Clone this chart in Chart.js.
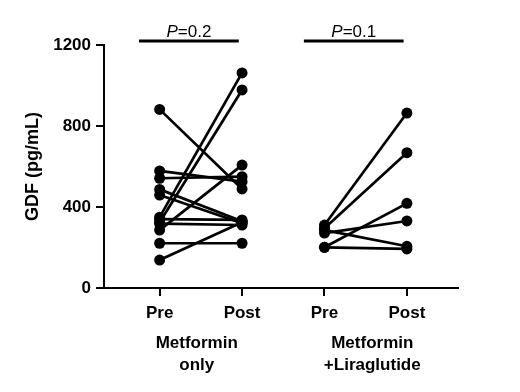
<!DOCTYPE html>
<html>
<head>
<meta charset="utf-8">
<script src="https://cdn.jsdelivr.net/npm/chart.js@4/dist/chart.umd.min.js"></script>
<style>
  html, body { margin: 0; padding: 0; background: #fff; }
  #wrap { width: 520px; height: 392px; }
</style>
</head>
<body>
<div id="wrap"><canvas id="gdfChart"></canvas></div>
<script>
// paired GDF values (pg/mL), one entry per subject
const preMetOnly  = [882, 578, 542, 487, 459, 350, 340, 325, 318, 286, 221, 138];
const postMetOnly = [489, 525, 550, 330, 320, 1062, 336, 978, 311, 607, 221, 325];
const preMetLira  = [311, 295, 271, 286, 201, 201];
const postMetLira = [864, 668, 331, 206, 418, 193];

const timeLabels = ["Pre", "Post", "Pre", "Post"];
const groupLabels = [["Metformin", "only"], ["Metformin", "+Liraglutide"]];
const pLabels = ["0.2", "0.1"];
const yTicks = [0, 400, 800, 1200];

const FONT = "'Liberation Sans', Arial, sans-serif";

let datasets = [];
function addPairs(pre, post, xPre) {
  pre.forEach((v, i) => {
    datasets.push({
      data: [{ x: xPre, y: v }, { x: xPre + 1, y: post[i] }],
      borderColor: "#000",
      backgroundColor: "#000",
      borderWidth: 2.7,
      pointRadius: 5.5,
      pointBorderWidth: 0,
      pointBackgroundColor: "#000",
    });
  });
}
addPairs(preMetOnly, postMetOnly, 0);
addPairs(preMetLira, postMetLira, 2);

// significance bars, P values and group names
const extrasPlugin = {
  id: "extras",
  afterDraw(chart) {
    const ctx = chart.ctx;
    const xs = chart.scales.x;
    const ys = chart.scales.y;
    ctx.save();

    // P bars
    const barY = ys.getPixelForValue(1220);
    [0, 2].forEach((g, k) => {
      const x1 = xs.getPixelForValue(g - 0.25);
      const x2 = xs.getPixelForValue(g + 0.96);
      ctx.strokeStyle = "#000";
      ctx.lineWidth = 3;
      ctx.beginPath();
      ctx.moveTo(x1, barY);
      ctx.lineTo(x2, barY);
      ctx.stroke();

      const italic = "italic 17px " + FONT;
      const normal = "17px " + FONT;
      ctx.font = italic;
      const wP = ctx.measureText("P").width;
      ctx.font = normal;
      const rest = "=" + pLabels[k];
      const wR = ctx.measureText(rest).width;
      const cx = (x1 + x2) / 2;
      let sx = cx - (wP + wR) / 2;
      ctx.fillStyle = "#000";
      ctx.textBaseline = "alphabetic";
      ctx.textAlign = "left";
      ctx.font = italic;
      ctx.fillText("P", sx, barY - 4);
      ctx.font = normal;
      ctx.fillText(rest, sx + wP, barY - 4);
    });

    // group names
    ctx.font = "bold 17px " + FONT;
    ctx.textAlign = "center";
    ctx.textBaseline = "middle";
    ctx.fillStyle = "#000";
    [0.45, 2.58].forEach((gx, k) => {
      const px = xs.getPixelForValue(gx);
      ctx.fillText(groupLabels[k][0], px, 343);
      ctx.fillText(groupLabels[k][1], px, 365);
    });
    ctx.restore();
  },
};

new Chart(document.getElementById("gdfChart"), {
  type: "line",
  data: { datasets: datasets },
  plugins: [extrasPlugin],
  options: {
    responsive: true,
    maintainAspectRatio: false,
    animation: false,
    layout: { padding: { top: 45, right: 62, left: 0, bottom: 0 } },
    plugins: {
      legend: { display: false },
      tooltip: { enabled: false },
    },
    scales: {
      x: {
        type: "linear",
        min: -0.675,
        max: 3.62,
        afterBuildTicks: (scale) => {
          scale.ticks = [0, 1, 2, 3].map((v) => ({ value: v }));
        },
        afterFit: (scale) => {
          scale.height = 104;
        },
        ticks: {
          color: "#000",
          font: { family: FONT, size: 17, weight: "bold" },
          padding: 7,
          maxRotation: 0,
          autoSkip: false,
          callback: (v) => timeLabels[v],
        },
        grid: {
          display: true,
          drawOnChartArea: false,
          drawTicks: true,
          tickLength: 8,
          color: "#000",
          lineWidth: 2,
        },
        border: { display: true, color: "#000", width: 2 },
      },
      y: {
        min: 0,
        max: 1200,
        afterBuildTicks: (scale) => {
          scale.ticks = yTicks.map((v) => ({ value: v }));
        },
        afterFit: (scale) => {
          scale.width = 104;
        },
        ticks: {
          color: "#000",
          font: { family: FONT, size: 17, weight: "bold" },
          padding: 5,
          callback: (v) => String(v),
        },
        grid: {
          display: true,
          drawOnChartArea: false,
          drawTicks: true,
          tickLength: 8,
          color: "#000",
          lineWidth: 2,
        },
        border: { display: true, color: "#000", width: 2 },
        title: {
          display: true,
          text: "GDF (pg/mL)",
          color: "#000",
          font: { family: FONT, size: 18, weight: "bold" },
          padding: { top: 22, bottom: 0 },
        },
      },
    },
  },
});
</script>
</body>
</html>
